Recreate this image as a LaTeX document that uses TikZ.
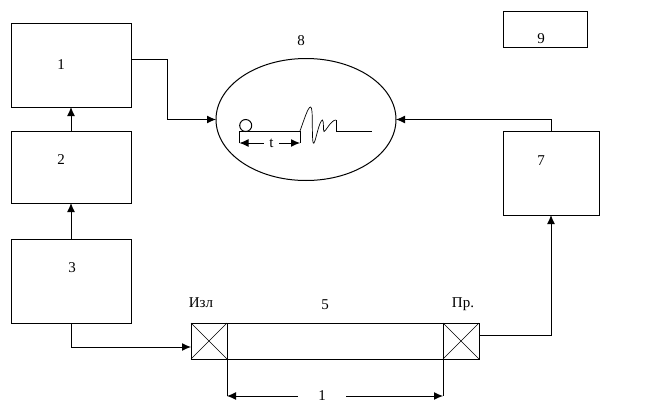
\documentclass[tikz,border=0pt]{standalone}
\usepackage{fontspec}
\setmainfont{Liberation Serif}
\usetikzlibrary{arrows.meta,shapes.geometric,positioning,calc}

\begin{document}
\begin{tikzpicture}[x=1pt,y=-1pt,>={Latex[length=9pt,width=8pt]},line width=1pt,
box/.style={draw,rectangle,inner sep=0pt,outer sep=0pt},
tag/.style={inner sep=0pt,font=\fontsize{15}{17}\selectfont},
gap/.style={fill=white,inner ysep=1pt,font=\fontsize{15}{17}\selectfont}]
\useasboundingbox (0,0) rectangle (649,413);
% blocks
\node[box,minimum width=120pt,minimum height=84pt] (b1) at (71,65) {};
\node[box,minimum width=120pt,minimum height=72pt] (b2) at (71,167) {};
\node[box,minimum width=120pt,minimum height=84pt] (b3) at (71,281) {};
\node[box,minimum width=96pt,minimum height=84pt] (b7) at (551,173) {};
\node[box,minimum width=84pt,minimum height=36pt] (b9) at (545,29) {};
\node[draw,ellipse,inner sep=0pt,outer sep=0pt,minimum width=180pt,minimum height=122pt] (scr) at (306,119.5) {};
% tube
\node[box,minimum width=216pt,minimum height=36pt] (tube) at (335,341) {};
\node[box,minimum width=36pt,minimum height=36pt,left=0pt of tube] (emit) {};
\node[box,minimum width=36pt,minimum height=36pt,right=0pt of tube] (recv) {};
\draw[line width=0.5pt] (emit.north west)--(emit.south east) (emit.north east)--(emit.south west);
\draw[line width=0.5pt] (recv.north west)--(recv.south east) (recv.north east)--(recv.south west);
% labels
\node[tag] (l1) at (61,65) {1};
\node[tag] (l2) at (61,160) {2};
\node[tag] (l3) at (72,268) {3};
\node[tag] (l7) at (541,161) {7};
\node[tag] (l8) at (301,41) {8};
\node[tag] (l9) at (541,39) {9};
\node[tag] (l5) at (325,305) {5};
\node[tag] (lemit) at (201,303) {Изл};
\node[tag] (lrecv) at (463,304) {Пр.};
% connectors
\path[->]
(b3) edge (b2)
(b2) edge (b1)
(b7.north) edge[to path={|- (\tikztotarget)}] (scr.east)
(b3.south) edge[to path={|- (\tikztotarget)}] ([yshift=-6pt]emit.west)
([yshift=6pt]recv.east) edge[to path={-| (\tikztotarget)}] (b7.south)
;
\draw[->] ([yshift=6pt]b1.east) -- ++(36,0) |- (scr.west);
% length of the tube
\coordinate (d1) at ($(tube.south west)+(0,37)$);
\coordinate (d2) at ($(tube.south east)+(0,37)$);
\draw (tube.south west) -- (d1) (tube.south east) -- (d2);
\draw[<->] (d1) -- node[gap,inner xsep=20pt,pos=0.44] (ldist) {1} (d2);
% trace
\node[draw,circle,inner sep=0pt,outer sep=0pt,minimum size=12pt] (spot) at (245.7,125.5) {};
\coordinate (t0) at (239.5,131);
\coordinate (t1) at (300,131);
\draw (t0) -- (t1);
\draw[line width=0.7pt] (300,131) .. controls (304,120) and (308,107) .. (310.5,107)
 .. controls (313,107) and (312,125) .. (312.5,135)
 .. controls (312.7,142) and (313,144) .. (314,143)
 .. controls (316,140) and (319,121) .. (322.5,120)
 .. controls (324,121) and (323,131) .. (324,131.5)
 .. controls (326,131) and (331,120) .. (336,120);
\draw (336,120) -- (336,131) -- (372,131);
\draw (t0) -- ++(0,12) coordinate (t2) (t1) -- ++(0,12) coordinate (t3);
\draw[<->] (t2) -- node[gap,inner xsep=5pt,inner ysep=1pt,pos=0.53] (lt) {t} (t3);
\end{tikzpicture}
\end{document}
